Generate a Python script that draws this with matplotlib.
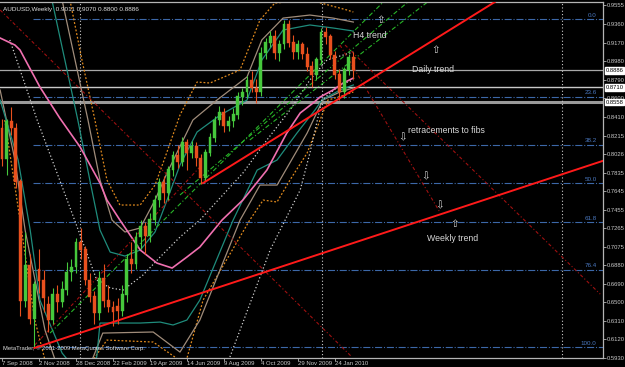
import numpy as np
import matplotlib.pyplot as plt

# AUDUSD weekly, bar 0 = week of 7 Sep 2008
opens = [.829, .797, .836, .829, .774, .652, .688, .633, .684, .672,
         .648, .632, .658, .650, .663, .681, .686, .712, .704, .673,
         .656, .639, .675, .652, .645, .646, .641, .658, .694, .690,
         .717, .728, .718, .735, .755, .773, .762, .786, .801, .794,
         .814, .804, .810, .798, .778, .804, .819, .837, .845, .831,
         .836, .843, .861, .866, .878, .870, .866, .906, .917, .923,
         .906, .915, .935, .917, .907, .915, .905, .892, .884, .899,
         .927, .923, .904, .884, .866, .889, .9011]
highs = [.838, .838, .851, .834, .777, .722, .700, .672, .705, .683,
         .657, .665, .668, .672, .692, .695, .716, .727, .708, .680,
         .662, .682, .690, .668, .652, .655, .668, .700, .712, .722,
         .735, .733, .742, .760, .778, .780, .790, .806, .812, .820,
         .818, .816, .815, .802, .808, .824, .842, .852, .850, .842,
         .850, .866, .870, .883, .888, .880, .912, .922, .929, .930,
         .920, .940, .9406, .925, .920, .918, .912, .898, .902, .932,
         .933, .926, .908, .890, .892, .905, .907]
lows = [.790, .781, .822, .768, .636, .645, .628, .604, .660, .640,
        .620, .628, .640, .645, .658, .672, .680, .695, .668, .650,
        .628, .632, .645, .640, .626, .628, .636, .650, .680, .684,
        .705, .700, .712, .730, .748, .752, .755, .780, .788, .790,
        .786, .798, .790, .772, .775, .800, .815, .832, .825, .826,
        .830, .838, .853, .860, .866, .855, .862, .900, .912, .900,
        .898, .910, .912, .900, .900, .900, .888, .871, .878, .895,
        .915, .900, .880, .858, .860, .884, .880]
closes = [.797, .836, .829, .774, .652, .688, .633, .668, .672, .655,
          .632, .658, .650, .663, .681, .686, .712, .704, .673, .656,
          .639, .675, .652, .645, .640, .641, .658, .694, .690, .717,
          .728, .718, .735, .755, .773, .762, .786, .801, .794, .814,
          .804, .810, .798, .778, .804, .819, .837, .845, .831, .836,
          .843, .861, .866, .878, .870, .866, .906, .917, .923, .906,
          .915, .935, .917, .907, .915, .905, .892, .884, .899, .927,
          .923, .904, .884, .866, .889, .9011, .8886]

date_pos = [0, 8, 16, 24, 32, 40, 48, 56, 64, 72]
date_labels = ['7 Sep 2008', '2 Nov 2008', '28 Dec 2008', '22 Feb 2009', '19 Apr 2009',
               '14 Jun 2009', '9 Aug 2009', '4 Oct 2009', '29 Nov 2009', '24 Jan 2010']
price_ticks = [0.9555, 0.9360, 0.9170, 0.8980, 0.8790, 0.8600, 0.8410, 0.8215, 0.8026,
               0.7835, 0.7645, 0.7455, 0.7265, 0.7075, 0.6880, 0.6690, 0.6500, 0.6310,
               0.6120, 0.5930]

fib_high, fib_low = 0.9408, 0.6040
fib_ratios = [0.0, 0.236, 0.382, 0.5, 0.618, 0.764, 1.0]
fib_names = ['0.0', '23.6', '38.2', '50.0', '61.8', '76.4', '100.0']

bid = 0.8886
level_lines = [0.8710, 0.8558]
separators = [16.9, 69.2, 121.1]

# moving average (pink)
ma_x = [-0.4, 2.8, 3.9, 8.2, 12.5, 16.9, 21.2, 22.7, 25.5, 29.9, 33.5, 36.8, 40, 42.8,
        47.6, 52.1, 57.3, 61.6, 64.5, 67.3, 68.8, 71.6, 73.8, 76]
ma_y = [.9216, .9144, .9093, .8713, .8394, .8097, .7727, .7552, .7347, .7039, .6905, .6854,
        .6967, .7070, .7347, .7552, .7860, .8240, .8446, .8549, .8610, .8682, .8754, .8805]

# band lines
ut_x = [10.8, 13.6, 16.4, 19, 21.2, 23.4, 26.6, 29.9, 33.1, 35.3, 38.5, 42.2, 47.2, 53, 56.2, 60.8, 66.6, 71.6, 76]
ut_y = [.9606, .8990, .8374, .7758, .7244, .7018, .6977, .7039, .7224, .7501, .7912, .8251, .8425, .8579,
        .8990, .9298, .9350, .9319, .9288]
un_x = [13, 15.8, 18.6, 21.2, 23.8, 26.6, 29.9, 33.1, 35.7, 41.3, 46.5, 53, 56.2, 60.8, 66.6, 71.6, 76]
un_y = [.9606, .8990, .8374, .7758, .7347, .7224, .7265, .7552, .7830, .8374, .8579, .8816, .9196, .9421,
        .9452, .9421, .9380]
uo_x = [14.7, 17.3, 20.1, 22.7, 25.5, 29.9, 33.1, 35.3, 38.5, 42.2, 45, 51.5, 55.8, 59, 66.6, 74.6, 76]
uo_y = [.9606, .8990, .8374, .7758, .7501, .7501, .7706, .7994, .8425, .8764, .8754, .8888, .9401, .9575,
        .9606, .9504, .9483]
lt_x = [-0.4, 3.5, 6.1, 8.2, 13, 16.9, 20.5, 21.2, 29.9, 34.2, 37, 40, 42.8, 50, 55.2, 59.5, 63.8, 67.7, 69.2, 73.1, 76]
lt_y = [.8579, .7963, .7244, .6525, .5981, .5755, .5940, .6289, .6289, .6299, .6269, .6320, .6525, .7347,
        .7860, .7963, .8240, .8477, .8579, .8682, .8734]
ln_x = [-0.4, 2.8, 5, 9.3, 11.5, 16.9, 21.8, 32.7, 38.5, 42.8, 51.5, 55.8, 59.5, 63, 66, 69.4, 73.1, 76]
ln_y = [.8682, .7963, .7244, .6217, .5909, .5600, .6186, .6197, .5991, .6320, .7347, .7706, .7706, .7994,
        .8240, .8579, .8662, .8703]
lo_x = [0.6, 3.9, 7.1, 9.3, 15.8, 22.7, 32.7, 37.4, 39.6, 43.5, 53.6, 56.5, 59.5, 62.3, 66, 70.5, 74.2, 76]
lo_y = [.8374, .7347, .6320, .5909, .5650, .6114, .6094, .5940, .5858, .6525, .7347, .7552, .7532, .7758,
        .8035, .8579, .8631, .8662]

# white dotted envelope lines
w1_x = [1.7, 7.6, 14.1, 20.5, 23.4, 26.2, 30.5, 34.2, 38.5, 42.8, 52.1, 57.3, 62.3, 66.6, 70.3, 76]
w1_y = [.9196, .8374, .7552, .6731, .6649, .6628, .6782, .6967, .7172, .7347, .7829, .8169, .8477, .8785,
        .8990, .9073]
w2_x = [49.3, 58, 64.5, 66.6, 69.2, 73.1, 76]
w2_y = [.5940, .7039, .7655, .8035, .8579, .8734, .8785]

# trend lines (bar, price)
weekly_x, weekly_y = [7, 130], [.6033, .7955]
daily_x, daily_y = [43.5, 106.6], [.7727, .9586]
green_x = [[10.4, 82.9], [38.5, 88.3], [53.6, 92.6]]
green_y = [[.6186, .9606], [.7604, .9606], [.8169, .9606]]
dred_x = [[-0.4, 75.7], [74.2, 129.4], [73.1, 94.7], [7.1, 42.8]]
dred_y = [[.9504, .5940], [.9144, .6586], [.9144, .7429], [.6063, .7891]]

bull, bear = '#46c83c', '#e8501e'
grey = '#c8c8c8'

fig = plt.figure(figsize=(6.25, 3.67), dpi=100, facecolor='black')
ax = fig.add_axes([0, 9 / 367, 603 / 625, 356 / 367], facecolor='black')
ax.set_xlim(-0.43, 130.0)
ax.set_ylim(0.5930, 0.9586)

# fibo levels
fib_levels = [fib_high - r * (fib_high - fib_low) for r in fib_ratios]
ax.hlines(fib_levels, 6.7, 130, colors='#3c68a8', linestyles='dashdot', lw=0.8)
for lv, nm in zip(fib_levels, fib_names):
    ax.text(128.6, lv + 0.0015, nm, color='#4a78c0', fontsize=4.5, ha='right', va='bottom',
            family='Liberation Sans')

# price lines
ax.axhline(bid, color='#a8a8a8', lw=0.9)
ax.axhline(level_lines[0], color='#c8c8c8', lw=1.0)
ax.axhline(level_lines[1], color='#9a9a9a', lw=2.2)
for s in separators:
    ax.axvline(s, color='#c8c8c8', lw=0.8, ls=(0, (1, 2)))

# indicator lines
ax.plot(uo_x, uo_y, color='#e08a1e', lw=0.9, ls=(0, (1.5, 1.5)))
ax.plot(lo_x, lo_y, color='#e08a1e', lw=0.9, ls=(0, (1.5, 1.5)))
ax.plot(un_x, un_y, color='#a08c7a', lw=0.9)
ax.plot(ln_x, ln_y, color='#a08c7a', lw=0.9)
ax.plot(ut_x, ut_y, color='#1f8c7c', lw=0.9)
ax.plot(lt_x, lt_y, color='#1f8c7c', lw=0.9)
ax.plot(w1_x, w1_y, color='#d0d0d0', lw=0.9, ls=(0, (1, 1.8)))
ax.plot(w2_x, w2_y, color='#d0d0d0', lw=0.9, ls=(0, (1, 1.8)))
ax.plot(ma_x, ma_y, color='#f070b0', lw=1.2)

for gx, gy in zip(green_x, green_y):
    ax.plot(gx, gy, color='#28b428', lw=0.8, ls=(0, (4, 2, 1, 2)))
for dx, dy in zip(dred_x, dred_y):
    ax.plot(dx, dy, color='#a01010', lw=0.8, ls=(0, (3, 2, 1, 2)))

# candles
x = np.arange(len(closes))
o, c = np.array(opens), np.array(closes)
col = np.where(c >= o, bull, bear)
ax.vlines(x, lows, highs, colors=col, lw=0.8, zorder=3)
ax.bar(x, np.abs(c - o) + 0.0006, bottom=np.minimum(o, c), width=0.62, color=col,
       edgecolor=col, lw=0.3, zorder=4)

# trend lines
ax.plot(weekly_x, weekly_y, color='#ff1a1a', lw=1.4, zorder=5)
ax.plot(daily_x, daily_y, color='#ff1a1a', lw=1.4, zorder=5)

# annotations
tc = '#d8d8d8'
tf = dict(color=tc, fontsize=6.3, family='Liberation Sans', va='center')
af = dict(color=tc, fontsize=7.5, family='DejaVu Sans', ha='center', va='center')
ax.text(75.9, 0.9247, 'H4 trend', **tf)
ax.text(82.0, 0.9401, '\u21e7', **af)
ax.text(88.7, 0.8888, 'Daily trend', **tf)
ax.text(93.9, 0.9093, '\u21e7', **af)
ax.text(87.8, 0.8271, 'retracements to fibs', **tf)
ax.text(86.7, 0.8199, '\u21e9', **af)
ax.text(91.7, 0.7799, '\u21e9', **af)
ax.text(94.7, 0.7501, '\u21e9', **af)
ax.text(98.0, 0.7306, '\u21e7', **af)
ax.text(91.9, 0.7162, 'Weekly trend', **tf)

ax.text(0.005, 0.985, 'AUDUSD,Weekly  0.9011 0.9070 0.8800 0.8886', transform=ax.transAxes,
        color='#e0e0e0', fontsize=4.6, family='Liberation Sans', va='top')
ax.text(0.005, 0.02, 'MetaTrader, \u00a9 2001-2009 MetaQuotes Software Corp.', transform=ax.transAxes,
        color='#e0e0e0', fontsize=4.2, family='Liberation Sans', va='bottom')

# axes
for side in ['top', 'right', 'bottom']:
    ax.spines[side].set_color('#b4b4b4')
    ax.spines[side].set_linewidth(0.9)
ax.spines['left'].set_visible(False)
ax.yaxis.tick_right()
ax.set_yticks(price_ticks)
ax.set_yticklabels(['%.4f' % v for v in price_ticks])
ax.tick_params(axis='y', colors='#b4b4b4', length=2, width=0.6, pad=1, labelsize=4.2,
               labelcolor=grey)
ax.set_xticks(date_pos)
ax.set_xticklabels(date_labels)
ax.tick_params(axis='x', colors='#b4b4b4', length=2, width=0.6, pad=0.5, labelsize=4.3,
               labelcolor=grey)
for lbl in ax.get_xticklabels() + ax.get_yticklabels():
    lbl.set_family('Liberation Sans')
for lbl in ax.get_xticklabels():
    lbl.set_ha('left')

# boxed price labels
for v in [bid] + level_lines:
    ax.text(1.004, (v - 0.5930) / (0.9586 - 0.5930), '%.4f' % v, transform=ax.transAxes,
            fontsize=4.2, family='Liberation Sans', color='black', va='center', ha='left',
            bbox=dict(boxstyle='square,pad=0.15', fc='white', ec='white'), zorder=10, clip_on=False)

fig.savefig('out.png', dpi=100, facecolor='black')
